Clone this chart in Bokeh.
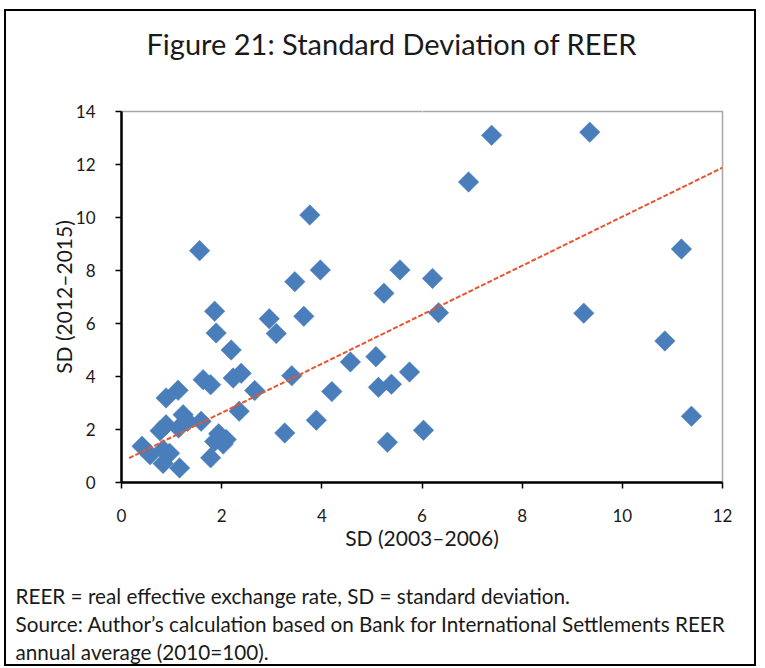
import numpy as np
from bokeh.plotting import figure
from bokeh.models import Range1d, FixedTicker, Title, LinearAxis
from bokeh.embed import file_html
from bokeh.resources import INLINE

# --- data ---
sd_2003_2006 = [0.41, 0.57, 0.83, 1.16, 0.96, 0.83, 0.77, 0.89, 1.14, 1.23,
                1.32, 1.59, 0.89, 1.13, 1.56, 1.86, 1.89, 2.19, 1.63, 1.78,
                2.23, 2.39, 2.66, 2.35, 1.78, 1.94, 1.86, 2.09, 2.03, 3.26,
                2.95, 3.09, 3.46, 3.76, 3.97, 3.64, 3.40, 4.20, 3.89, 4.57,
                5.08, 5.13, 5.39, 5.75, 5.31, 6.03, 5.56, 5.24, 6.21, 6.33,
                6.93, 7.39, 9.35, 11.18, 9.23, 10.85, 11.38]
sd_2012_2015 = [1.37, 1.05, 0.72, 0.55, 1.10, 1.24, 1.95, 2.18, 2.06, 2.56,
                2.31, 2.31, 3.19, 3.48, 8.75, 6.46, 5.64, 5.00, 3.88, 3.69,
                3.94, 4.12, 3.47, 2.69, 0.93, 1.84, 1.55, 1.62, 1.45, 1.87,
                6.18, 5.62, 7.58, 10.09, 8.02, 6.27, 4.03, 3.43, 2.35, 4.55,
                4.75, 3.59, 3.71, 4.17, 1.52, 1.97, 8.02, 7.14, 7.70, 6.41,
                11.34, 13.10, 13.22, 8.81, 6.39, 5.34, 2.50]
# trend line as drawn in the reference
trend_x_range = [0.15, 12.0]
trend_intercept = 0.78
trend_slope = 0.925
x_ticks = [0, 2, 4, 6, 8, 10, 12]
y_ticks = [0, 2, 4, 6, 8, 10, 12, 14]

title_text = "Figure 21: Standard Deviation of REER"
x_label = "SD (2003\u20132006)"
y_label = "SD (2012\u20132015)"
notes = ["REER = real effective exchange rate, SD = standard deviation.",
         "Source: Author\u2019s calculation based on Bank for International Settlements REER",
         "annual average (2010=100)."]

FONT = "Lato"
TXT = "#1a1a1a"

p = figure(width=748, height=653, output_backend="svg", toolbar_location=None,
           x_range=Range1d(0, 12), y_range=Range1d(0, 14),
           min_border_left=115, min_border_right=32, min_border_top=100,
           min_border_bottom=181,
           styles={"outline": "2px solid black", "margin-left": "6px",
                   "margin-top": "11px"})
p.background_fill_color = "white"
p.border_fill_color = "white"
p.outline_line_color = "#a6a6a6"
p.outline_line_width = 1.5
p.xgrid.visible = False
p.ygrid.visible = False

for ax in (p.xaxis[0], p.yaxis[0]):
    ax.axis_line_color = "black"
    ax.axis_line_width = 2.5
    ax.major_tick_line_color = "black"
    ax.major_tick_line_width = 1.5
    ax.major_tick_out = 6
    ax.major_tick_in = 0
    ax.minor_tick_line_color = None
    ax.major_label_text_font = FONT
    ax.major_label_text_font_size = "17px"
    ax.major_label_text_color = TXT
    ax.axis_label_text_font = FONT
    ax.axis_label_text_font_size = "21px"
    ax.axis_label_text_font_style = "normal"
    ax.axis_label_text_color = TXT

p.xaxis[0].ticker = FixedTicker(ticks=x_ticks)
p.yaxis[0].ticker = FixedTicker(ticks=y_ticks)
p.xaxis[0].axis_label = x_label
p.yaxis[0].axis_label = y_label
p.xaxis[0].major_label_standoff = 20
p.yaxis[0].major_label_standoff = 20
p.xaxis[0].axis_label_standoff = 0
p.yaxis[0].axis_label_standoff = -3

# scatter points (rotated squares = diamonds)
p.scatter(sd_2003_2006, sd_2012_2015, marker="square", angle=np.pi / 4,
          size=14.5, fill_color="#4a7ebb", line_color="#4a7ebb", line_width=0.5)

# linear trend line
tx = np.array(trend_x_range)
p.line(tx, trend_intercept + trend_slope * tx, line_color="#e8552f",
       line_width=2, line_dash="5 2")


def spacer(size):
    """An invisible axis (one white tick, empty label) that only reserves space."""
    return LinearAxis(ticker=FixedTicker(ticks=[6]), axis_line_color=None,
                      major_tick_line_color="white", major_tick_line_alpha=1.0,
                      minor_tick_line_color=None,
                      major_tick_out=size, major_tick_in=0, minor_tick_out=0,
                      minor_tick_in=0, major_label_standoff=0,
                      major_label_overrides={6: ""},
                      major_label_text_font_size="1px")


# title above (spacer first so it sits next to the frame)
p.add_layout(spacer(51), "above")
p.add_layout(Title(text=title_text, align="left", offset=25, standoff=0,
                   text_font=FONT, text_font_size="29px", text_color=TXT,
                   text_font_style="normal"), "above")

# notes below the x axis
p.add_layout(spacer(28), "below")
for line in notes:
    p.add_layout(Title(text=line, align="left", offset=-106, standoff=2,
                       text_font=FONT, text_font_size="20.7px", text_color=TXT,
                       text_font_style="normal"), "below")

open("out.html", "w").write(file_html(p, INLINE))
